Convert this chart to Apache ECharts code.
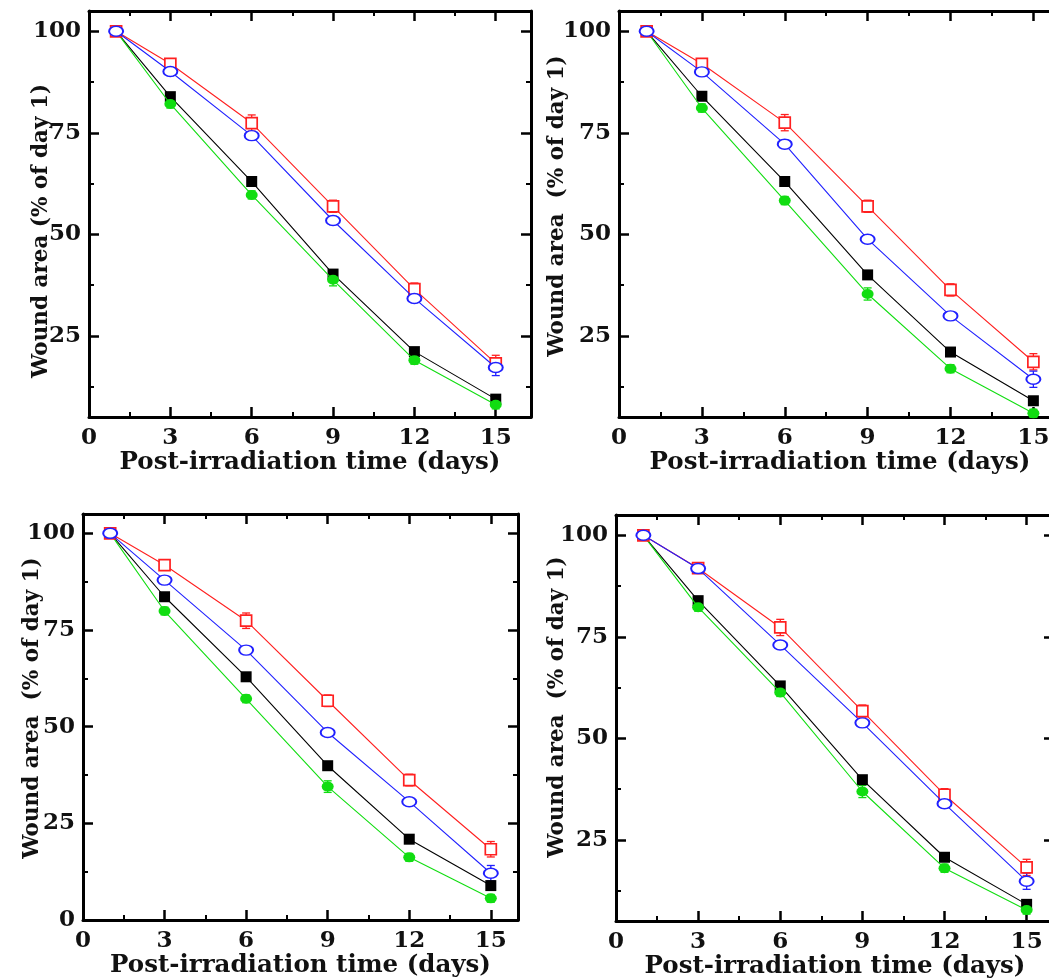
<!DOCTYPE html>
<html>
<head>
<meta charset="utf-8">
<script src="https://cdn.jsdelivr.net/npm/echarts@6/dist/echarts.min.js"></script>
<style>
html, body { margin:0; padding:0; background:#fff; }
#wound-chart { width:1049px; height:978px; }
</style>
</head>
<body>
<div id="wound-chart"></div>
<script>
var days = [1, 3, 6, 9, 12, 15];
var xMajorTicks = [0, 3, 6, 9, 12, 15];
var xMinorTicks = [1.5, 4.5, 7.5, 10.5, 13.5];
var yMajorTicks = [25, 50, 75, 100];
var yMajorTicksZero = [0, 25, 50, 75, 100];
var yMinorTicks = [12.5, 37.5, 62.5, 87.5];

// panel A (top left)
var redA   = [100, 92.0, 77.4, 56.9, 36.5, 18.2];
var blueA  = [100, 90.1, 74.3, 53.4, 34.2, 17.2];
var blackA = [100, 83.9, 63.0, 40.2, 21.1, 9.4];
var greenA = [100, 82.1, 59.7, 38.8, 19.0, 8.0];
// panel B (top right)
var redB   = [100, 92.0, 77.5, 56.9, 36.3, 18.6];
var blueB  = [100, 90.0, 72.2, 48.8, 29.9, 14.3];
var blackB = [100, 84.0, 63.0, 40.0, 21.0, 9.0];
var greenB = [100, 81.1, 58.3, 35.3, 16.9, 5.9];
// panel C (bottom left)
var redC   = [100, 91.8, 77.4, 56.7, 36.2, 18.3];
var blueC  = [100, 87.9, 69.8, 48.5, 30.6, 12.1];
var blackC = [100, 83.6, 62.9, 39.9, 20.9, 8.9];
var greenC = [100, 79.9, 57.2, 34.5, 16.2, 5.6];
// panel D (bottom right)
var redD   = [100, 91.9, 77.3, 56.7, 36.1, 18.2];
var blueD  = [100, 91.8, 73.0, 53.8, 33.9, 14.8];
var blackD = [100, 83.9, 62.9, 39.8, 20.7, 9.1];
var greenD = [100, 82.3, 61.3, 36.9, 18.0, 7.7];

// error bars (approximate)
var redErr   = [0, 1.0, 2.0, 1.5, 1.5, 2.0];
var blueErr  = [0.8, 1.0, 1.0, 1.0, 1.0, 2.0];
var blackErr = [0, 0.5, 1.0, 0.5, 0.5, 0.5];
var greenErr = [0, 1.0, 1.0, 1.5, 1.0, 1.0];

var yTitleA = 'Wound area (% of day 1)';
var yTitle = 'Wound area  (% of day 1)';
var xTitle = 'Post-irradiation time (days)';

var panels = [
    {grid:{left:89, top:11, width:442, height:406}, xMax:16.3, yMin:5, yTicks:yMajorTicks, yName:yTitleA, nameGap:37, namePad:[0, 34, 0, 0],
     red:redA, blue:blueA, black:blackA, green:greenA},
    {grid:{left:619, top:11, width:442, height:406}, xMax:16, yMin:5, yTicks:yMajorTicks, yName:yTitle, nameGap:51, namePad:[0, 0, 0, 16],
     red:redB, blue:blueB, black:blackB, green:greenB},
    {grid:{left:83, top:514, width:435, height:406}, xMax:16, yMin:0, yTicks:yMajorTicksZero, yName:yTitle, nameGap:40, namePad:[0, 0, 0, 18],
     red:redC, blue:blueC, black:blackC, green:greenC},
    {grid:{left:616, top:515, width:438, height:406}, xMax:16, yMin:5, yTicks:yMajorTicks, yName:yTitle, nameGap:48, namePad:[0, 0, 0, 22],
     red:redD, blue:blueD, black:blackD, green:greenD}
];

var fontFace = '"DejaVu Serif", "Liberation Serif", serif';
var ink = '#111';

var grids = [], xAxes = [], yAxes = [], series = [];

function tickAxis(base, values, len, width, lineShow) {
    base.axisLine = {show:lineShow, onZero:false, lineStyle:{color:'#000', width:3}};
    base.axisTick = {show:true, inside:true, length:len, customValues:values, lineStyle:{color:'#000', width:width}};
    base.splitLine = {show:false};
    if (!base.axisLabel) base.axisLabel = {show:false};
    return base;
}

function errorBars(xi, yi, vals, errs, color) {
    return {
        type:'custom', xAxisIndex:xi, yAxisIndex:yi, z:3, silent:true,
        data: days.map(function(d, i){ return [d, vals[i] - errs[i], vals[i] + errs[i]]; }),
        renderItem: function(params, api){
            var lo = api.coord([api.value(0), api.value(1)]);
            var hi = api.coord([api.value(0), api.value(2)]);
            var w = 4;
            var st = {stroke:color, lineWidth:1.3};
            return {type:'group', children:[
                {type:'line', shape:{x1:lo[0], y1:lo[1], x2:hi[0], y2:hi[1]}, style:st},
                {type:'line', shape:{x1:hi[0]-w, y1:hi[1], x2:hi[0]+w, y2:hi[1]}, style:st},
                {type:'line', shape:{x1:lo[0]-w, y1:lo[1], x2:lo[0]+w, y2:lo[1]}, style:st}
            ]};
        }
    };
}

function lineSeries(xi, yi, vals, color, symbol, size, fill, z) {
    return {
        type:'line', xAxisIndex:xi, yAxisIndex:yi, z:z,
        data: days.map(function(d, i){ return [d, vals[i]]; }),
        symbol:symbol, symbolSize:size, showSymbol:true,
        lineStyle:{color:color, width:1.1},
        itemStyle:{color:fill, borderColor:color, borderWidth:fill === color ? 0 : 1.7}
    };
}

panels.forEach(function(p, k){
    grids.push(Object.assign({outerBoundsMode:'none', containLabel:false}, p.grid));
    var xi = xAxes.length, yi = yAxes.length;
    var xRange = {type:'value', gridIndex:k, min:0, max:p.xMax};
    var yRange = {type:'value', gridIndex:k, min:p.yMin, max:105};

    // bottom x with labels
    var xb = tickAxis(Object.assign({}, xRange, {position:'bottom',
        name:xTitle, nameLocation:'middle', nameGap:33, nameMoveOverlap:false,
        nameTextStyle:{fontFamily:fontFace, fontWeight:'bold', fontSize:24.5, color:ink, verticalAlign:'top'},
        axisLabel:{show:true, customValues:xMajorTicks, margin:10, fontFamily:fontFace, fontWeight:'bold', fontSize:23, color:ink}
    }), xMajorTicks, 10, 2.5, true);
    xAxes.push(xb);
    xAxes.push(tickAxis(Object.assign({}, xRange, {position:'bottom'}), xMinorTicks, 5, 2, false));
    xAxes.push(tickAxis(Object.assign({}, xRange, {position:'top'}), xMajorTicks, 10, 2.5, true));
    xAxes.push(tickAxis(Object.assign({}, xRange, {position:'top'}), xMinorTicks, 5, 2, false));

    var yl = tickAxis(Object.assign({}, yRange, {position:'left',
        name:p.yName, nameLocation:'middle', nameGap:p.nameGap, nameRotate:90, nameMoveOverlap:false,
        nameTextStyle:{fontFamily:fontFace, fontWeight:'bold', fontSize:21.5, color:ink, padding:p.namePad},
        axisLabel:{show:true, customValues:p.yTicks, margin:8, fontFamily:fontFace, fontWeight:'bold', fontSize:23, color:ink}
    }), p.yTicks, 10, 2.5, true);
    yAxes.push(yl);
    yAxes.push(tickAxis(Object.assign({}, yRange, {position:'left'}), yMinorTicks, 5, 2, false));
    yAxes.push(tickAxis(Object.assign({}, yRange, {position:'right'}), p.yTicks, 10, 2.5, true));
    yAxes.push(tickAxis(Object.assign({}, yRange, {position:'right'}), yMinorTicks, 5, 2, false));

    series.push(errorBars(xi, yi, p.black, blackErr, '#000'));
    series.push(errorBars(xi, yi, p.green, greenErr, '#11dd11'));
    series.push(errorBars(xi, yi, p.red, redErr, '#ff2020'));
    series.push(errorBars(xi, yi, p.blue, blueErr, '#2020ff'));
    series.push(lineSeries(xi, yi, p.black, '#000', 'rect', [11, 11], '#000', 4));
    series.push(lineSeries(xi, yi, p.green, '#11dd11', 'circle', [12, 10], '#11dd11', 5));
    series.push(lineSeries(xi, yi, p.red, '#ff2020', 'rect', [11, 11], '#fff', 6));
    series.push(lineSeries(xi, yi, p.blue, '#2020ff', 'circle', [14, 10], '#fff', 7));
});

var woundChart = echarts.init(document.getElementById('wound-chart'));
woundChart.setOption({
    animation:false,
    backgroundColor:'#fff',
    grid:grids,
    xAxis:xAxes,
    yAxis:yAxes,
    series:series
});
</script>
</body>
</html>
